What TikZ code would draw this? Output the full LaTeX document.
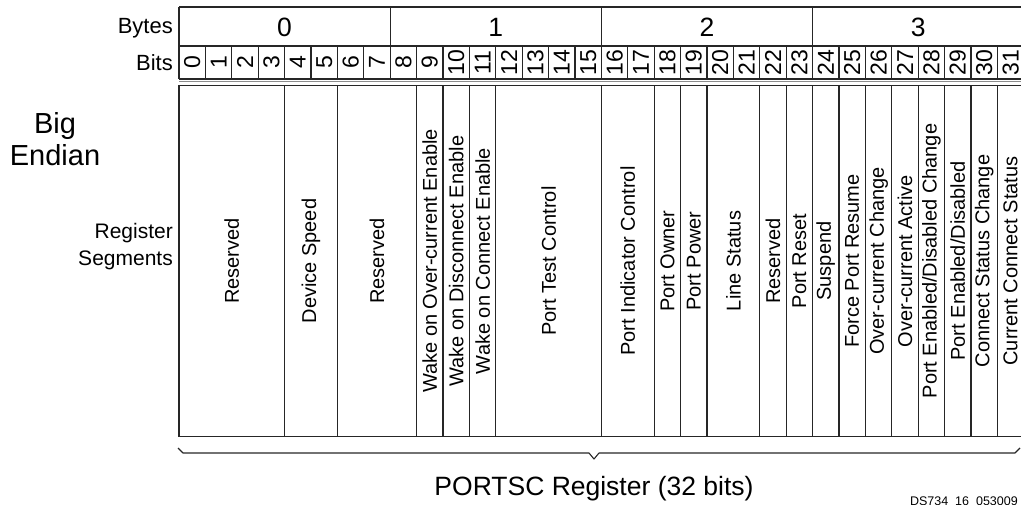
\documentclass[tikz,border=0pt]{standalone}
\usepackage{fontspec}
\setmainfont{Liberation Sans}
\begin{document}
\begin{tikzpicture}[x=1pt,y=-1pt,
  grid/.style={line width=1.1pt, draw=black!85},
  bytenum/.style={inner sep=0pt, font=\fontsize{26.5}{30}\selectfont, anchor=base},
  bitnum/.style={inner sep=0pt, rotate=90, font=\fontsize{23}{26}\selectfont},
  seglabel/.style={inner sep=0pt, rotate=90, font=\fontsize{20}{24}\selectfont},
  sidelabel/.style={inner sep=0pt, anchor=base east, font=\fontsize{22}{26}\selectfont},
  biglabel/.style={inner sep=0pt, anchor=base, font=\fontsize{29}{32}\selectfont},
  reglabel/.style={inner sep=0pt, anchor=base east, font=\fontsize{21}{26}\selectfont}]
\useasboundingbox (0,0) rectangle (1021,504);
% byte and bit rows
\draw[grid] (179,7) -- (1024,7);
\draw[grid] (179,46) -- (1024,46);
\draw[grid] (179,79) -- (1024,79);
\draw[line width=1pt, draw=black!45] (179,81.3) -- (1024,81.3);
\foreach \b in {0,...,4}{
  \draw[grid] ({179+\b*8*26.4},7) -- ({179+\b*8*26.4},46);
}
\foreach \i in {0,...,32}{
  \draw[grid] ({179+\i*26.4},46) -- ({179+\i*26.4},79);
}
\foreach \b in {0,...,3}{
  \node[bytenum] (byte\b) at ({179+(\b*8+4)*26.4},36) {\b};
}
\foreach \i in {0,...,31}{
  \node[bitnum] (bit\i) at ({179+(\i+0.5)*26.4},62.5) {\i};
}
\node[sidelabel] (bytes) at (173,33) {Bytes};
\node[sidelabel] (bits) at (173,70) {Bits};
% segments
\draw[grid] (179,85.5) rectangle (1024,436.5);
\foreach \s/\e/\t [count=\k] in {0/3/{Reserved}, 4/5/{Device Speed}, 6/8/{Reserved},
  9/9/{Wake on Over-current Enable}, 10/10/{Wake on Disconnect Enable},
  11/11/{Wake on Connect Enable}, 12/15/{Port Test Control},
  16/17/{Port Indicator Control}, 18/18/{Port Owner}, 19/19/{Port Power},
  20/21/{Line Status}, 22/22/{Reserved}, 23/23/{Port Reset}, 24/24/{Suspend},
  25/25/{Force Port Resume}, 26/26/{Over-current Change}, 27/27/{Over-current Active},
  28/28/{Port Enabled/Disabled Change}, 29/29/{Port Enabled/Disabled},
  30/30/{Connect Status Change}, 31/31/{Current Connect Status}}{
  \draw[grid] ({179+\s*26.4},85.5) -- ({179+\s*26.4},436.5);
  \node[seglabel] (seg\k) at ({179+(\s+\e+1)/2*26.4},261) {\t};
}
% left labels
\node[biglabel] (big) at (55,133) {Big};
\node[biglabel] (endian) at (55,165) {Endian};
\node[reglabel] (register) at (173,238) {Register};
\node[reglabel] (segments) at (173,265) {Segments};
% brace
\draw[line width=1.1pt, draw=black!85, line join=round]
  (178,448) -- (183,453) -- (589,453) -- (594,459) -- (599,453) -- (1015,453) -- (1020,448);
\node[inner sep=0pt, anchor=base, font=\fontsize{26.5}{30}\selectfont] (title) at (594,495) {PORTSC Register (32 bits)};
\node[inner sep=0pt, anchor=north east, font=\fontsize{12.5}{14}\selectfont] (ds) at (1018,497) {DS734\_16\_053009};
\end{tikzpicture}
\end{document}
